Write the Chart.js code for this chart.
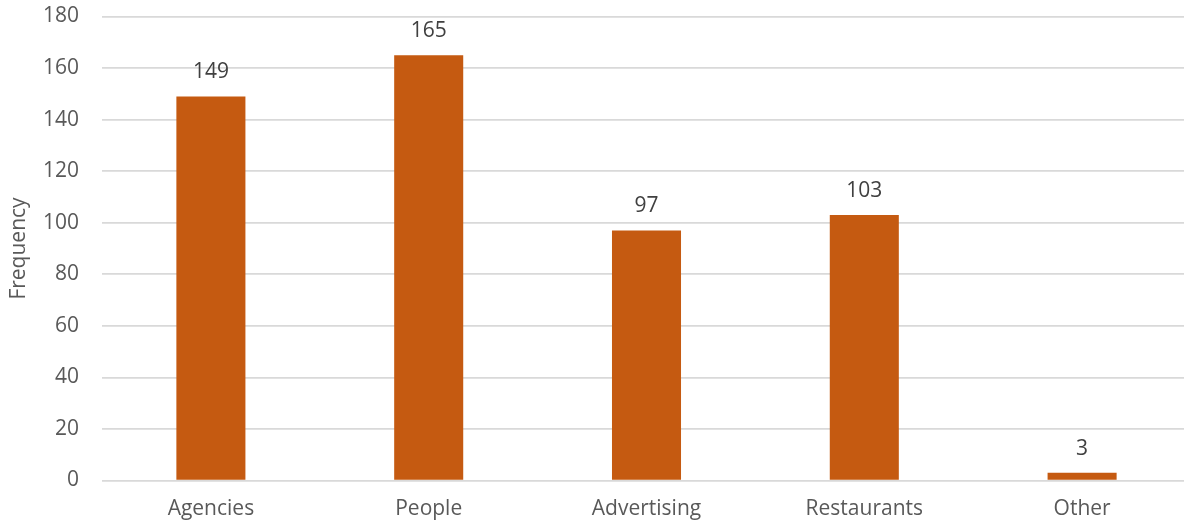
<!DOCTYPE html>
<html>
<head>
<meta charset="utf-8">
<script src="https://cdn.jsdelivr.net/npm/chart.js@4"></script>
<style>
html,body{margin:0;padding:0;background:#fff;overflow:hidden;}
#wrap{width:1191px;height:529px;}
</style>
</head>
<body>
<div id="wrap"><canvas id="c" width="1191" height="529"></canvas></div>
<script>
const categories = ["Agencies", "People", "Advertising", "Restaurants", "Other"];
const frequency = [149, 165, 97, 103, 3];
const yTicks = [0, 20, 40, 60, 80, 100, 120, 140, 160, 180];
const yTitle = "Frequency";

const FONT = "'Open Sans', sans-serif";

const valueLabels = {
  id: 'valueLabels',
  afterDatasetsDraw(chart) {
    const ctx = chart.ctx;
    const meta = chart.getDatasetMeta(0);
    ctx.save();
    ctx.font = "21px " + FONT;
    ctx.fillStyle = "#404040";
    ctx.textAlign = "center";
    ctx.textBaseline = "alphabetic";
    meta.data.forEach((bar, i) => {
      ctx.fillText(String(chart.data.datasets[0].data[i]), bar.x, bar.y - 18);
    });
    ctx.restore();
  }
};

new Chart(document.getElementById('c'), {
  type: 'bar',
  data: {
    labels: categories,
    datasets: [{
      data: frequency,
      backgroundColor: '#C55A11',
      borderWidth: 0,
      barPercentage: 1,
      categoryPercentage: 0.317
    }]
  },
  options: {
    responsive: false,
    animation: false,
    devicePixelRatio: 1,
    layout: { padding: { top: 16.5, right: 0, bottom: 0, left: 0 } },
    plugins: { legend: { display: false }, tooltip: { enabled: false } },
    scales: {
      x: {
        grid: { display: false, drawTicks: false },
        border: { display: false },
        ticks: { color: '#595959', font: { family: FONT, size: 21 }, padding: 16, maxRotation: 0 },
        afterFit(s) { s.height = 48.5; s.paddingLeft = 0; s.paddingRight = 0; }
      },
      y: {
        min: 0, max: 180,
        afterBuildTicks(s) { s.ticks = yTicks.map(v => ({ value: v })); },
        grid: { color: '#d9d9d9', lineWidth: 1.7, drawTicks: false },
        border: { display: false },
        ticks: { color: '#595959', font: { family: FONT, size: 21 }, padding: 23 },
        title: { display: true, text: yTitle, color: '#595959', font: { family: FONT, size: 21 }, padding: { top: 6, bottom: 0 } },
        afterFit(s) { s.width = 102; s.paddingTop = 0; s.paddingBottom = 0; }
      }
    }
  },
  plugins: [valueLabels]
});
</script>
</body>
</html>
